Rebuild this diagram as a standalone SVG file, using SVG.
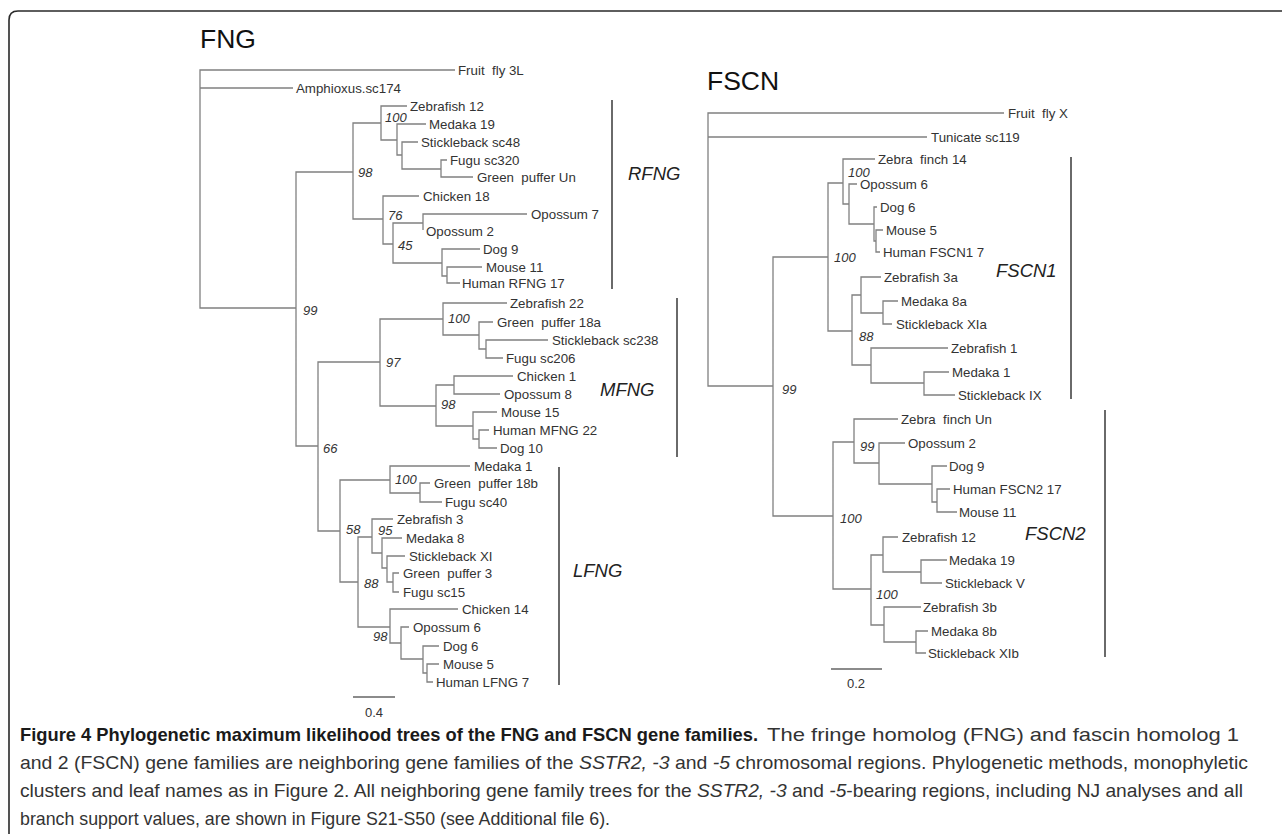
<svg xmlns="http://www.w3.org/2000/svg" width="1282" height="834" viewBox="0 0 1282 834">
<style>
.bg{fill:#fff}
.frame{fill:none;stroke:#2a2a2a;stroke-width:1.6}
.br{fill:none;stroke:#808080;stroke-width:1.3}
.bar{fill:none;stroke:#3a3a3a;stroke-width:1.5}
.lf{font-family:"Liberation Sans",Arial,sans-serif;font-size:13.3px;fill:#333;white-space:pre}
.bs{font-family:"Liberation Sans",Arial,sans-serif;font-size:13px;font-style:italic;fill:#333}
.cl{font-family:"Liberation Sans",Arial,sans-serif;font-size:18.5px;font-style:italic;fill:#222}
.tt{font-family:"Liberation Sans",Arial,sans-serif;font-size:26.5px;fill:#111}
.sc{font-family:"Liberation Sans",Arial,sans-serif;font-size:13px;fill:#333;text-anchor:middle}
.cap{font-family:"Liberation Sans",Arial,sans-serif;font-size:19px;fill:#333;white-space:pre}
.capb{font-weight:bold;fill:#1a1a1a}
</style>
<rect class="bg" x="0" y="0" width="1282" height="834"/>
<path class="frame" d="M9,834 V20 Q9,11 18,11 H1282"/>

<g id="fng-title"><text class="tt" x="200" y="48">FNG</text></g>
<g id="fscn-title"><text class="tt" x="707" y="90">FSCN</text></g>

<g id="connectors">
<path class="br" d="M455,70 H200 V308 H296 M200,88 H293
M353,172 H296 V446 H318
M381,123 H353 V219 H383
M407,106 H381 V140 H397
M426,124 H397 V155 H402
M418,142 H402 V169 H441
M447,160 H441 V177 H473
M419,196 H383 V244 H393
M423,223 H393 V263 H442
M527,214 H423 V230
M480,249 H442 V276 H447
M482,267 H447 V283 H460
M380,362 H318 V531 H340
M443,319 H380 V406 H436
M507,303 H443 V335 H479
M493,322 H479 V349 H486
M548,340 H486 V358 H503
M454,385 H436 V426 H473
M513,376 H454 V394 H500
M497,412 H473 V439 H479
M489,430 H479 V448 H497
M390,480 H340 V582 H358
M470,466 H390 V493 H420
M430,483 H420 V502 H442
M372,537 H358 V627 H390
M393,519 H372 V553 H382
M402,538 H382 V568 H387
M405,556 H387 V582 H393
M399,573 H393 V592 H399
M458,609 H390 V643 H401
M409,627 H401 V659 H423
M439,646 H423 V673 H427
M439,664 H427 V682 H433"/>
<path class="br" d="M1004,113 H708 V386 H773 M708,137 H927
M828,257 H773 V516 H833
M843,183 H828 V331 H852
M875,159 H843 V204 H849
M857,184 H849 V224 H874
M877,207 H874 V241 H876
M883,230 H876 V252 H880
M861,295 H852 V365 H871
M881,277 H861 V313 H883
M898,301 H883 V324 H892
M948,348 H871 V383 H924
M949,372 H924 V395 H955
M854,442 H833 V589 H871
M898,419 H854 V463 H879
M905,443 H879 V484 H932
M947,466 H932 V502 H937
M950,489 H937 V512 H957
M883,555 H871 V625 H884
M898,537 H883 V572 H921
M947,560 H921 V583 H942
M921,607 H884 V642 H916
M928,631 H916 V653 H926"/>
<path class="bar" d="M612,100 V289 M677,298 V457 M559,467 V685 M1071,157 V399 M1105,410 V657"/>
<path class="bar" d="M353,697 H395 M831,669 H882" style="stroke:#666;stroke-width:1.3"/>
</g>

<g id="fng-leaves">
<g id="fng-fruitfly"><text class="lf" x="458" y="75">Fruit  fly 3L</text></g>
<g id="fng-amphioxus"><text class="lf" x="296" y="93">Amphioxus.sc174</text></g>
<g id="fng-zebrafish12"><text class="lf" x="410" y="111">Zebrafish 12</text></g>
<g id="fng-medaka19"><text class="lf" x="429" y="129">Medaka 19</text></g>
<g id="fng-sticklebacksc48"><text class="lf" x="421" y="147">Stickleback sc48</text></g>
<g id="fng-fugusc320"><text class="lf" x="450" y="165">Fugu sc320</text></g>
<g id="fng-greenpufferun"><text class="lf" x="477" y="182">Green  puffer Un</text></g>
<g id="fng-chicken18"><text class="lf" x="423" y="201">Chicken 18</text></g>
<g id="fng-opossum7"><text class="lf" x="531" y="219">Opossum 7</text></g>
<g id="fng-opossum2"><text class="lf" x="426" y="236">Opossum 2</text></g>
<g id="fng-dog9"><text class="lf" x="483" y="254">Dog 9</text></g>
<g id="fng-mouse11"><text class="lf" x="486" y="272">Mouse 11</text></g>
<g id="fng-humanrfng17"><text class="lf" x="462" y="288">Human RFNG 17</text></g>
<g id="fng-zebrafish22"><text class="lf" x="510" y="308">Zebrafish 22</text></g>
<g id="fng-greenpuffer18a"><text class="lf" x="497" y="327">Green  puffer 18a</text></g>
<g id="fng-sticklebacksc238"><text class="lf" x="552" y="345">Stickleback sc238</text></g>
<g id="fng-fugusc206"><text class="lf" x="506" y="363">Fugu sc206</text></g>
<g id="fng-chicken1"><text class="lf" x="517" y="381">Chicken 1</text></g>
<g id="fng-opossum8"><text class="lf" x="504" y="399">Opossum 8</text></g>
<g id="fng-mouse15"><text class="lf" x="501" y="417">Mouse 15</text></g>
<g id="fng-humanmfng22"><text class="lf" x="493" y="435">Human MFNG 22</text></g>
<g id="fng-dog10"><text class="lf" x="500" y="453">Dog 10</text></g>
<g id="fng-medaka1"><text class="lf" x="474" y="471">Medaka 1</text></g>
<g id="fng-greenpuffer18b"><text class="lf" x="434" y="488">Green  puffer 18b</text></g>
<g id="fng-fugusc40"><text class="lf" x="445" y="507">Fugu sc40</text></g>
<g id="fng-zebrafish3"><text class="lf" x="397" y="524">Zebrafish 3</text></g>
<g id="fng-medaka8"><text class="lf" x="406" y="543">Medaka 8</text></g>
<g id="fng-sticklebackxi"><text class="lf" x="409" y="561">Stickleback XI</text></g>
<g id="fng-greenpuffer3"><text class="lf" x="403" y="578">Green  puffer 3</text></g>
<g id="fng-fugusc15"><text class="lf" x="403" y="597">Fugu sc15</text></g>
<g id="fng-chicken14"><text class="lf" x="462" y="614">Chicken 14</text></g>
<g id="fng-opossum6"><text class="lf" x="413" y="632">Opossum 6</text></g>
<g id="fng-dog6"><text class="lf" x="443" y="651">Dog 6</text></g>
<g id="fng-mouse5"><text class="lf" x="443" y="669">Mouse 5</text></g>
<g id="fng-humanlfng7"><text class="lf" x="436" y="687">Human LFNG 7</text></g>
</g>

<g id="fng-support">
<text class="bs" x="385" y="122">100</text>
<text class="bs" x="358" y="177">98</text>
<text class="bs" x="388" y="220">76</text>
<text class="bs" x="398" y="250">45</text>
<text class="bs" x="303" y="315">99</text>
<text class="bs" x="323" y="453">66</text>
<text class="bs" x="386" y="367">97</text>
<text class="bs" x="448" y="323">100</text>
<text class="bs" x="441" y="409">98</text>
<text class="bs" x="395" y="484">100</text>
<text class="bs" x="346" y="534">58</text>
<text class="bs" x="378" y="535">95</text>
<text class="bs" x="364" y="588">88</text>
<text class="bs" x="373" y="641">98</text>
</g>

<g id="fng-clades">
<text class="cl" x="628" y="180">RFNG</text>
<text class="cl" x="600" y="396">MFNG</text>
<text class="cl" x="573" y="577">LFNG</text>
</g>
<g id="fng-scale"><text class="sc" x="374" y="717">0.4</text></g>

<g id="fscn-leaves">
<g id="fscn-fruitfly"><text class="lf" x="1008" y="118">Fruit  fly X</text></g>
<g id="fscn-tunicate"><text class="lf" x="931" y="142">Tunicate sc119</text></g>
<g id="fscn-zebrafinch14"><text class="lf" x="878" y="164">Zebra  finch 14</text></g>
<g id="fscn-opossum6"><text class="lf" x="860" y="189">Opossum 6</text></g>
<g id="fscn-dog6"><text class="lf" x="880" y="212">Dog 6</text></g>
<g id="fscn-mouse5"><text class="lf" x="886" y="235">Mouse 5</text></g>
<g id="fscn-humanfscn17"><text class="lf" x="883" y="257">Human FSCN1 7</text></g>
<g id="fscn-zebrafish3a"><text class="lf" x="884" y="282">Zebrafish 3a</text></g>
<g id="fscn-medaka8a"><text class="lf" x="901" y="306">Medaka 8a</text></g>
<g id="fscn-sticklebackxia"><text class="lf" x="896" y="329">Stickleback XIa</text></g>
<g id="fscn-zebrafish1"><text class="lf" x="951" y="353">Zebrafish 1</text></g>
<g id="fscn-medaka1"><text class="lf" x="952" y="377">Medaka 1</text></g>
<g id="fscn-sticklebackix"><text class="lf" x="958" y="400">Stickleback IX</text></g>
<g id="fscn-zebrafinchun"><text class="lf" x="901" y="424">Zebra  finch Un</text></g>
<g id="fscn-opossum2"><text class="lf" x="908" y="448">Opossum 2</text></g>
<g id="fscn-dog9"><text class="lf" x="949" y="471">Dog 9</text></g>
<g id="fscn-humanfscn217"><text class="lf" x="953" y="494">Human FSCN2 17</text></g>
<g id="fscn-mouse11"><text class="lf" x="959" y="517">Mouse 11</text></g>
<g id="fscn-zebrafish12"><text class="lf" x="902" y="542">Zebrafish 12</text></g>
<g id="fscn-medaka19"><text class="lf" x="949" y="565">Medaka 19</text></g>
<g id="fscn-sticklebackv"><text class="lf" x="945" y="588">Stickleback V</text></g>
<g id="fscn-zebrafish3b"><text class="lf" x="923" y="612">Zebrafish 3b</text></g>
<g id="fscn-medaka8b"><text class="lf" x="931" y="636">Medaka 8b</text></g>
<g id="fscn-sticklebackxib"><text class="lf" x="928" y="658">Stickleback XIb</text></g>
</g>

<g id="fscn-support">
<text class="bs" x="848" y="177">100</text>
<text class="bs" x="834" y="262">100</text>
<text class="bs" x="859" y="341">88</text>
<text class="bs" x="782" y="394">99</text>
<text class="bs" x="860" y="451">99</text>
<text class="bs" x="840" y="523">100</text>
<text class="bs" x="876" y="599">100</text>
</g>

<g id="fscn-clades">
<text class="cl" x="996" y="277">FSCN1</text>
<text class="cl" x="1025" y="540">FSCN2</text>
</g>
<g id="fscn-scale"><text class="sc" x="856" y="688">0.2</text></g>

<g id="caption">
<text class="cap capb" x="20" y="741" textLength="738" lengthAdjust="spacingAndGlyphs">Figure 4 Phylogenetic maximum likelihood trees of the FNG and FSCN gene families.</text>
<text class="cap" x="767" y="741" textLength="472" lengthAdjust="spacingAndGlyphs">The fringe homolog (FNG) and fascin homolog 1</text>
<text class="cap" x="20" y="769" textLength="1228" lengthAdjust="spacingAndGlyphs">and 2 (FSCN) gene families are neighboring gene families of the <tspan font-style="italic">SSTR2, -3</tspan> and <tspan font-style="italic">-5</tspan> chromosomal regions. Phylogenetic methods, monophyletic</text>
<text class="cap" x="20" y="797" textLength="1223" lengthAdjust="spacingAndGlyphs">clusters and leaf names as in Figure 2. All neighboring gene family trees for the <tspan font-style="italic">SSTR2, -3</tspan> and <tspan font-style="italic">-5</tspan>-bearing regions, including NJ analyses and all</text>
<text class="cap" x="20" y="825" textLength="590" lengthAdjust="spacingAndGlyphs">branch support values, are shown in Figure S21-S50 (see Additional file 6).</text>
</g>
</svg>
